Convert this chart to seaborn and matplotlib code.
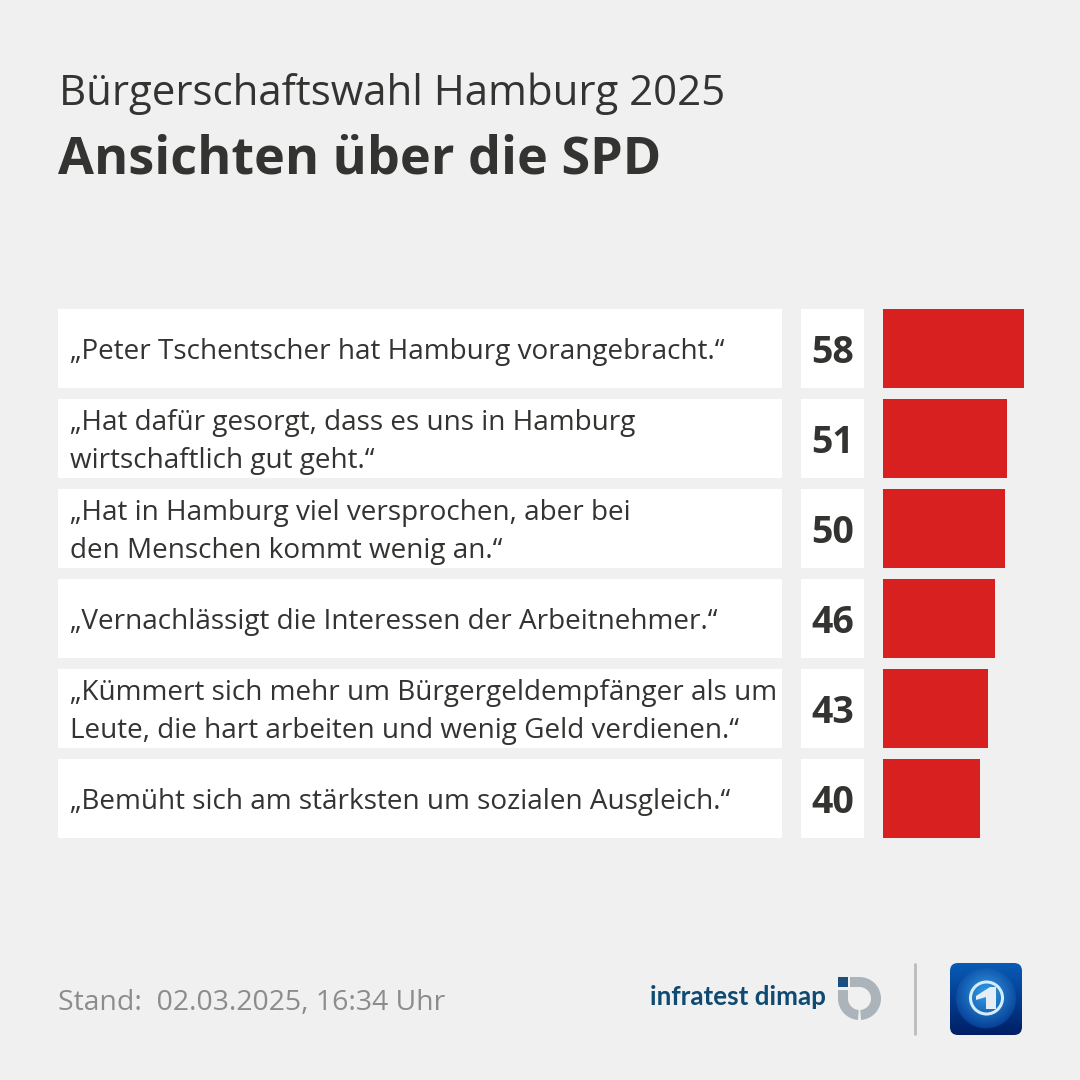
import numpy as np
import pandas as pd
import matplotlib
matplotlib.use('Agg')
import matplotlib.pyplot as plt
import seaborn as sns
from matplotlib.patches import Rectangle, Wedge, Circle, FancyBboxPatch, Polygon

statements = [
    '„Peter Tschentscher hat Hamburg vorangebracht.“',
    '„Hat dafür gesorgt, dass es uns in Hamburg\nwirtschaftlich gut geht.“',
    '„Hat in Hamburg viel versprochen, aber bei\nden Menschen kommt wenig an.“',
    '„Vernachlässigt die Interessen der Arbeitnehmer.“',
    '„Kümmert sich mehr um Bürgergeldempfänger als um\nLeute, die hart arbeiten und wenig Geld verdienen.“',
    '„Bemüht sich am stärksten um sozialen Ausgleich.“',
]
werte = [58, 51, 50, 46, 43, 40]

BG = '#f0f0f0'
TEXT = '#333331'
RED = '#d7201f'

sns.set_theme(style='white')
plt.rcParams['font.family'] = ['Open Sans', 'DejaVu Sans']

fig = plt.figure(figsize=(10.8, 10.8), dpi=100, facecolor=BG)

# Hintergrund-Achse in Pixeln (0-1080, y nach unten)
bg = fig.add_axes([0, 0, 1, 1], zorder=0)
bg.set_xlim(0, 1080)
bg.set_ylim(1080, 0)
bg.axis('off')

bg.text(59, 94, 'Bürgerschaftswahl Hamburg 2025', fontsize=30.27, color=TEXT, va='center')
bg.text(58, 160, 'Ansichten über die SPD', fontsize=37.5, color=TEXT, va='center', fontweight='bold')

# Balken
top, bottom = 309, 838
ax = fig.add_axes([883 / 1080, 1 - bottom / 1080, 141 / 1080, (bottom - top) / 1080], zorder=2)
df = pd.DataFrame({'aussage': statements, 'wert': werte})
sns.barplot(data=df, x='wert', y='aussage', color=RED, saturation=1, width=79 / 90, linewidth=0, ax=ax)
ax.set_xlim(0, 58)
ax.set_ylim(5 + 39.5 / 90, -39.5 / 90)
ax.axis('off')
ax.patch.set_alpha(0)

# Weiße Kästen, Texte, Zahlen
for i, (s, w) in enumerate(zip(statements, werte)):
    y = 309 + i * 90
    bg.add_patch(Rectangle((58, y), 724, 79, fc='white', ec='none'))
    bg.add_patch(Rectangle((801, y), 63, 79, fc='white', ec='none'))
    bg.text(70, y + 43, s, fontsize=20.05, color=TEXT, va='center', ha='left', linespacing=1.46)
    bg.text(833, y + 44, str(w), fontsize=27, color=TEXT, va='center', ha='center', fontweight='bold')

# Fußzeile
bg.text(58, 1003, 'Stand:  02.03.2025, 16:34 Uhr', fontsize=20.4, color='#8c8c8c', va='center')
bg.text(650, 997, 'infratest dimap', fontsize=18.7, color='#0f4a73', va='center', fontweight='bold', family='Lato')

# infratest Logo
grau = '#aab4ba'
bg.add_patch(Rectangle((838, 977), 10, 10, fc='#1b4f80', ec='none'))
bg.add_patch(Rectangle((850, 977), 10, 10, fc=grau, ec='none'))
bg.add_patch(Wedge((859.5, 998.5), 21.5, -90, 86, width=10, fc=grau, ec='none'))
bg.add_patch(Wedge((859.5, 998.5), 21.5, 94, 180, width=10, fc=grau, ec='none'))
bg.add_patch(Rectangle((838, 990), 10, 8.5, fc=grau, ec='none'))

bg.plot([915, 915], [964, 1034], color='#bcbcbc', lw=2, solid_capstyle='round')

# tagesschau Icon
yy, xx = np.mgrid[0:1:200j, 0:1:200j]
r = np.hypot(xx - 0.5, yy - 0.49)
dunkel = np.array([0.0, 0.12, 0.40])
hell = np.array([0.03, 0.36, 0.72])
verlauf = dunkel + (hell - dunkel) * (1 - yy)[..., None]
globus = np.array([0.20, 0.62, 0.92])
rand = np.array([0.02, 0.24, 0.58])
g = np.clip(np.hypot(xx - 0.5, yy - 0.42) / 0.5, 0, 1)[..., None]
verlauf = np.where(r[..., None] < 0.42, globus + (rand - globus) * g, verlauf)
im = bg.imshow(verlauf, extent=(950, 1022, 1035, 963), aspect='auto', zorder=3)
rahmen = FancyBboxPatch((954, 967), 64, 64, boxstyle='round,pad=4,rounding_size=8', fc='none', ec='none',
                        transform=bg.transData)
bg.add_patch(rahmen)
im.set_clip_path(rahmen)
bg.set_xlim(0, 1080)
bg.set_ylim(1080, 0)
bg.add_patch(Circle((986.5, 998), 16, fc='none', ec='#d5ecf9', lw=2.2, zorder=4))
bg.add_patch(Polygon([(976, 996), (990, 987), (996, 987), (996, 1009), (986, 1009), (986, 997), (976, 1000)],
                     fc='#e4eef4', ec='none', zorder=4))

fig.savefig('out.png', dpi=100, facecolor=BG)
